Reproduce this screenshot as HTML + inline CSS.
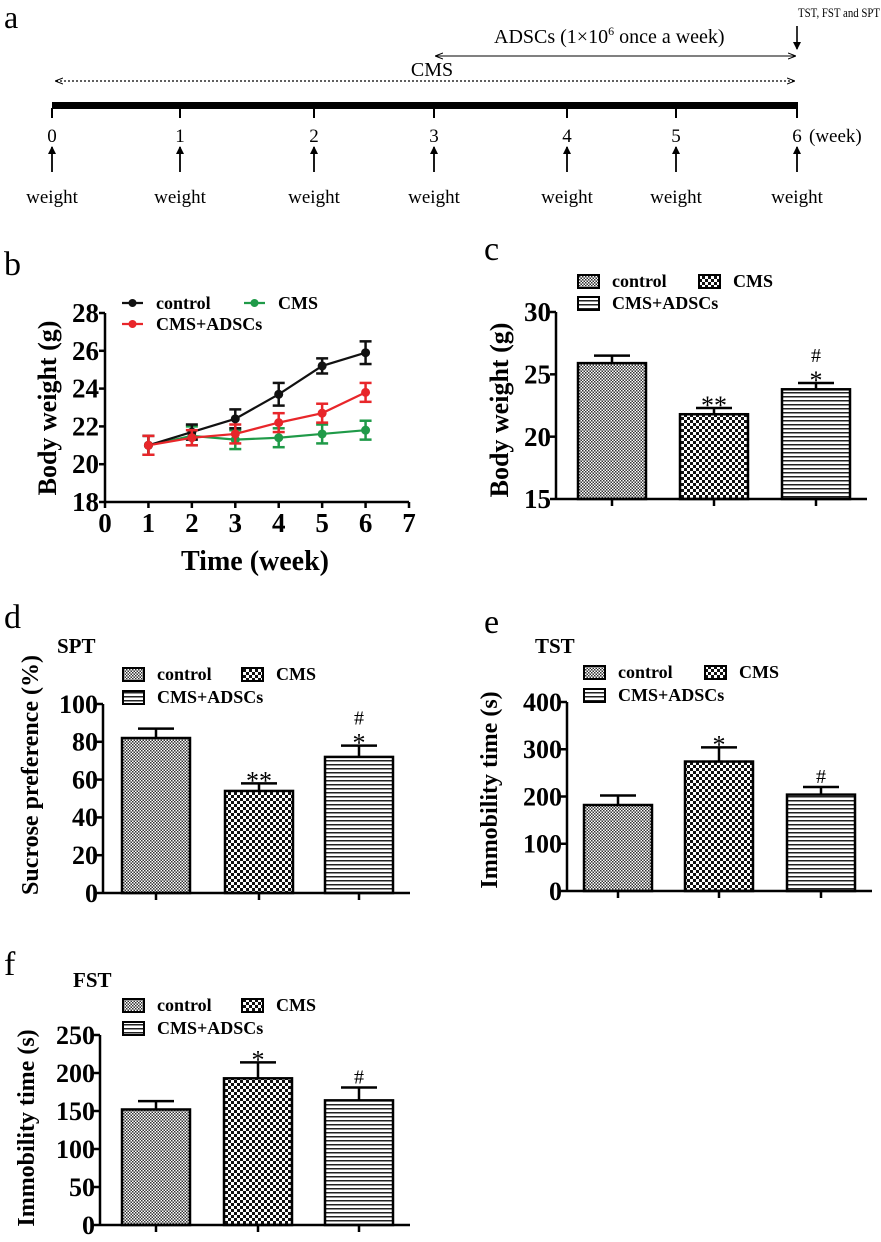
<!DOCTYPE html>
<html><head><meta charset="utf-8"><style>
html,body{margin:0;padding:0;background:#fff;}
svg{display:block;font-family:"Liberation Serif",serif;}
</style></head><body>
<svg id="fig" width="881" height="1242" viewBox="0 0 881 1242" xmlns="http://www.w3.org/2000/svg">
<defs>
<pattern id="pCtrl" width="3" height="3" patternUnits="userSpaceOnUse"><rect width="3" height="3" fill="#fff"/><rect width="1.5" height="1.5" fill="#333"/><rect x="1.5" y="1.5" width="1.5" height="1.5" fill="#333"/></pattern>
<pattern id="pCms" width="6" height="6" patternUnits="userSpaceOnUse"><rect width="6" height="6" fill="#fff"/><rect width="3" height="3" fill="#111"/><rect x="3" y="3" width="3" height="3" fill="#111"/></pattern>
<pattern id="pAds" width="4" height="4" patternUnits="userSpaceOnUse"><rect width="4" height="4" fill="#fff"/><rect y="0" width="4" height="1.5" fill="#222"/></pattern>
<marker id="ah" markerWidth="8" markerHeight="8" refX="7" refY="4" orient="auto" markerUnits="userSpaceOnUse"><path d="M0,0 L8,4 L0,8 z" fill="#000"/></marker>
<marker id="ahs" markerWidth="8" markerHeight="8" refX="7" refY="4" orient="auto-start-reverse" markerUnits="userSpaceOnUse"><path d="M0,1 L8,4 L0,7" fill="none" stroke="#000" stroke-width="1"/></marker>
</defs>
<g id="panelA"></g>
<g id="panelB"></g>
<g id="panelC"></g>
<g id="panelD"></g>
<g id="panelE"></g>
<g id="panelF"></g>
</svg>
<script>
// ---- Panel b data ----
const bWeeks = [1,2,3,4,5,6];
const bControl = [21.0,21.7,22.4,23.7,25.2,25.9];
const bControlErr = [0.5,0.4,0.5,0.6,0.4,0.6];
const bCMS = [21.0,21.5,21.3,21.4,21.6,21.8];
const bCMSErr = [0.5,0.5,0.5,0.5,0.5,0.5];
const bADSC = [21.0,21.4,21.6,22.2,22.7,23.8];
const bADSCErr = [0.5,0.4,0.5,0.5,0.5,0.5];
const bXTicks = [0,1,2,3,4,5,6,7];
const bYTicks = [18,20,22,24,26,28];
// ---- bar panels data ----
const groups = ["control","CMS","CMS+ADSCs"];
const cValues = [25.9,21.8,23.8];
const cErr = [0.6,0.5,0.5];
const cTicks = [15,20,25,30];
const cMarks = [[],["**"],["*","#"]];
const dValues = [82,54,72];
const dErr = [5,4,6];
const dTicks = [0,20,40,60,80,100];
const dMarks = [[],["**"],["*","#"]];
const eValues = [182,274,204];
const eErr = [20,30,16];
const eTicks = [0,100,200,300,400];
const eMarks = [[],["*"],["#"]];
const fValues = [152,193,164];
const fErr = [11,21,17];
const fTicks = [0,50,100,150,200,250];
const fMarks = [[],["*"],["#"]];
// ---- timeline data ----
const aWeeks = [0,1,2,3,4,5,6];

const NS = "http://www.w3.org/2000/svg";
function mk(parent, tag, attrs, text){
  const e = document.createElementNS(NS, tag);
  for (const k in attrs) e.setAttribute(k, attrs[k]);
  if (text !== undefined) e.textContent = text;
  parent.appendChild(e);
  return e;
}

// ---------- Panel a ----------
(function(){
  const g = document.getElementById('panelA');
  const tx = [52,180,314,434,567,676,797];
  const t = mk(g,'text',{x:4,y:28,'font-size':32},'a');
  
  
  const tl = mk(g,'text',{x:798,y:17,'font-size':13,textLength:82,lengthAdjust:'spacingAndGlyphs'},'TST, FST and SPT');
  
  
  mk(g,'line',{x1:797,y1:26,x2:797,y2:49,stroke:'#000','stroke-width':1.6,'marker-end':'url(#ah)'});
  const ad = mk(g,'text',{x:494,y:43,'font-size':20},'ADSCs (1×10');
  
  
  mk(ad,'tspan',{dy:-8,'font-size':12},'6');
  mk(ad,'tspan',{dy:8},' once a week)');
  mk(g,'line',{x1:436,y1:56,x2:795,y2:56,stroke:'#000','stroke-width':1,'marker-start':'url(#ahs)','marker-end':'url(#ahs)'});
  const cm = mk(g,'text',{x:432,y:76,'font-size':20,'text-anchor':'middle'},'CMS');
  
  
  mk(g,'line',{x1:56,y1:81,x2:794,y2:81,stroke:'#000','stroke-width':1.3,'stroke-dasharray':'2,2','marker-start':'url(#ahs)','marker-end':'url(#ahs)'});
  const bar = mk(g,'rect',{x:52,y:102,width:746,height:7,fill:'#000'});
  
  
  aWeeks.forEach((w,i)=>{
    const x = tx[i];
    mk(g,'line',{x1:x,y1:108,x2:x,y2:118,stroke:'#000','stroke-width':2});
    const n = mk(g,'text',{x:x,y:142,'font-size':19,'text-anchor':'middle'},String(w));
    
    
    mk(g,'line',{x1:x,y1:172,x2:x,y2:147,stroke:'#000','stroke-width':1.8,'marker-end':'url(#ah)'});
    const wt = mk(g,'text',{x:x,y:203,'font-size':19,'text-anchor':'middle'},'weight');
    
    
  });
  const wk = mk(g,'text',{x:809,y:142,'font-size':19},'(week)');
  
  
})();

// ---------- Panel b ----------
(function(){
  const g = document.getElementById('panelB');
  const x0=105, x1=409, y0=502, y1=313;
  const xs = v => x0 + (v-0)/(7-0)*(x1-x0);
  const ys = v => y0 - (v-18)/(28-18)*(y0-y1);
  const lb = mk(g,'text',{x:4,y:275,'font-size':34},'b');
  
  
  mk(g,'line',{x1:x0,y1:y1,x2:x0,y2:y0,stroke:'#000','stroke-width':2.5});
  mk(g,'line',{x1:x0,y1:y0,x2:x1,y2:y0,stroke:'#000','stroke-width':2.5});
  bYTicks.forEach(v=>{
    mk(g,'line',{x1:x0-6,y1:ys(v),x2:x0,y2:ys(v),stroke:'#000','stroke-width':2.5});
    const t = mk(g,'text',{x:x0-6,y:ys(v)+9,'font-size':27,'font-weight':'bold','text-anchor':'end'},String(v));
    
    
  });
  bXTicks.forEach(v=>{
    mk(g,'line',{x1:xs(v),y1:y0,x2:xs(v),y2:y0+6,stroke:'#000','stroke-width':2.5});
    const t = mk(g,'text',{x:xs(v),y:y0+30,'font-size':27,'font-weight':'bold','text-anchor':'middle'},String(v));
    
    
  });
  const yt = mk(g,'text',{transform:'translate(56,408) rotate(-90)','font-size':26,'font-weight':'bold','text-anchor':'middle'},'Body weight (g)');
  
  
  const xt = mk(g,'text',{x:255,y:570,'font-size':28,'font-weight':'bold','text-anchor':'middle'},'Time (week)');
  
  
  const series = [[bCMS,bCMSErr,'#1f9a48','cms'],[bControl,bControlErr,'#111','control'],[bADSC,bADSCErr,'#e8262a','cms-adscs']];
  series.forEach(([vals,errs,col,nm])=>{
    const pts = vals.map((v,i)=>xs(bWeeks[i])+','+ys(v)).join(' ');
    const pl = mk(g,'polyline',{points:pts,fill:'none',stroke:col,'stroke-width':2.2});
    
    
    vals.forEach((v,i)=>{
      const x = xs(bWeeks[i]);
      const e = errs[i];
      mk(g,'line',{x1:x,y1:ys(v+e),x2:x,y2:ys(v-e),stroke:col,'stroke-width':2.5});
      mk(g,'line',{x1:x-6,y1:ys(v+e),x2:x+6,y2:ys(v+e),stroke:col,'stroke-width':2.5});
      mk(g,'line',{x1:x-6,y1:ys(v-e),x2:x+6,y2:ys(v-e),stroke:col,'stroke-width':2.5});
      const c = mk(g,'circle',{cx:x,cy:ys(v),r:4.5,fill:col});
      
      
    });
  });
  const leg = [[122,303,'#111','control'],[244,303,'#1f9a48','CMS'],[122,324,'#e8262a','CMS+ADSCs']];
  leg.forEach(([x,y,col,txt])=>{
    const le = mk(g,'g',{});
    
    
    mk(le,'line',{x1:x,y1:y,x2:x+21,y2:y,stroke:col,'stroke-width':2.2});
    mk(le,'circle',{cx:x+10.5,cy:y,r:4,fill:col});
    mk(le,'text',{x:x+34,y:y+6,'font-size':18,'font-weight':'bold'},txt);
  });
})();

// ---------- Bar panels ----------
const fills = ['url(#pCtrl)','url(#pCms)','url(#pAds)'];
function barPanel(id, cfg, values, errs, ticks, marks){
  const g = document.getElementById(id);
  const {ax, ay0, ay1, axEnd, vmin, vmax, bars, bw, tickFont, title, label, labelX, labelY, sub, subX, subY, legX, legY1, legY2, cmsX} = cfg;
  const ys = v => ay0 - (v-vmin)/(vmax-vmin)*(ay0-ay1);
  const lb = mk(g,'text',{x:labelX,y:labelY,'font-size':34},label);
  
  
  if (sub){
    const s = mk(g,'text',{x:subX,y:subY,'font-size':21,'font-weight':'bold'},sub);
    
    
  }
  values.forEach((v,i)=>{
    const x = bars[i];
    const r = mk(g,'rect',{x:x,y:ys(v),width:bw,height:ay0-ys(v),fill:fills[i],stroke:'#000','stroke-width':2.5});
    
    
    const cx = x+bw/2, top = ys(v+errs[i]);
    mk(g,'line',{x1:cx,y1:ys(v),x2:cx,y2:top,stroke:'#000','stroke-width':2.5});
    mk(g,'line',{x1:cx-18,y1:top,x2:cx+18,y2:top,stroke:'#000','stroke-width':2.5});
    mk(g,'line',{x1:cx,y1:ay0,x2:cx,y2:ay0+7,stroke:'#000','stroke-width':2.5});
    marks[i].forEach((m,k)=>{
      const t = mk(g,'text',{x:cx,y:top-4-(k*17)+ (m.indexOf('*')>=0?10:0),'font-size':m.indexOf('*')>=0?26:20,'text-anchor':'middle'},m);
      
      
    });
  });
  mk(g,'line',{x1:ax,y1:ay1,x2:ax,y2:ay0,stroke:'#000','stroke-width':2.5});
  mk(g,'line',{x1:ax,y1:ay0,x2:axEnd,y2:ay0,stroke:'#000','stroke-width':2.5});
  ticks.forEach(v=>{
    mk(g,'line',{x1:ax-6,y1:ys(v),x2:ax,y2:ys(v),stroke:'#000','stroke-width':2.5});
    const t = mk(g,'text',{x:ax-5,y:ys(v)+tickFont*0.34,'font-size':tickFont,'font-weight':'bold','text-anchor':'end'},String(v));
    
    
  });
  const yt = mk(g,'text',{transform:`translate(${cfg.titleX},${cfg.titleY}) rotate(-90)`,'font-size':cfg.titleFont,'font-weight':'bold','text-anchor':'middle'},title);
  
  
  const leg = [[legX,legY1,groups[0]],[cmsX,legY1,groups[1]],[legX,legY2,groups[2]]];
  leg.forEach(([x,y,txt],i)=>{
    const le = mk(g,'g',{});
    
    
    mk(le,'rect',{x:x,y:y-6,width:21,height:13,fill:fills[i],stroke:'#000','stroke-width':2});
    mk(le,'text',{x:x+34,y:y+6,'font-size':18,'font-weight':'bold'},txt);
  });
}
barPanel('panelC',{ax:556,ay0:499,ay1:312,axEnd:867,vmin:15,vmax:30,bars:[578,680,782],bw:68,tickFont:27,title:'Body weight (g)',titleX:508,titleY:410,titleFont:26,label:'c',labelX:484,labelY:260,legX:578,legY1:281,legY2:303,cmsX:699},cValues,cErr,cTicks,cMarks);
barPanel('panelD',{ax:103,ay0:893,ay1:704,axEnd:410,vmin:0,vmax:100,bars:[122,225,325],bw:68,tickFont:26,title:'Sucrose preference (%)',titleX:38,titleY:775,titleFont:24,label:'d',labelX:4,labelY:628,sub:'SPT',subX:57,subY:653,legX:123,legY1:674,legY2:697,cmsX:242},dValues,dErr,dTicks,dMarks);
barPanel('panelE',{ax:567,ay0:891,ay1:702,axEnd:872,vmin:0,vmax:400,bars:[584,685,787],bw:68,tickFont:26,title:'Immobility time (s)',titleX:497,titleY:790,titleFont:24,label:'e',labelX:484,labelY:633,sub:'TST',subX:535,subY:653,legX:584,legY1:672,legY2:695,cmsX:705},eValues,eErr,eTicks,eMarks);
barPanel('panelF',{ax:100,ay0:1225,ay1:1035,axEnd:410,vmin:0,vmax:250,bars:[122,224,325],bw:68,tickFont:26,title:'Immobility time (s)',titleX:34,titleY:1128,titleFont:24,label:'f',labelX:4,labelY:975,sub:'FST',subX:73,subY:987,legX:123,legY1:1005,legY2:1028,cmsX:242},fValues,fErr,fTicks,fMarks);
</script>
</body></html>
